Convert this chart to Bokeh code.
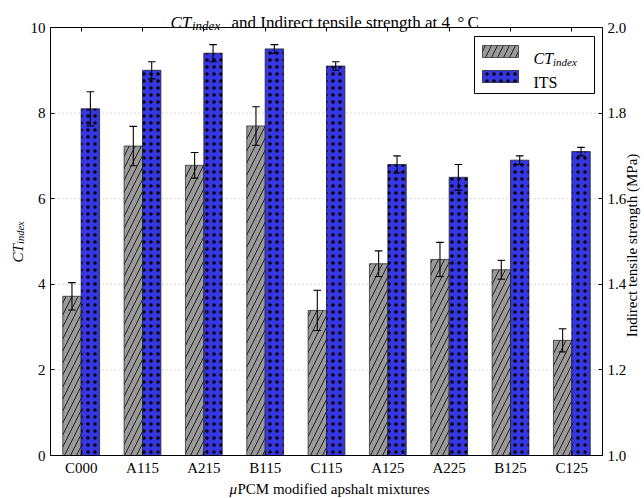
import numpy as np
from bokeh.plotting import figure
from bokeh.models import (Range1d, LinearAxis, FixedTicker, Label, BoxAnnotation,
                          ColumnDataSource, NumeralTickFormatter, CustomJSTickFormatter)
from bokeh.embed import file_html
from bokeh.resources import INLINE

# --- data -------------------------------------------------------------
mixtures = ["C000", "A115", "A215", "B115", "C115", "A125", "A225", "B125", "C125"]
ct_index = [3.72, 7.23, 6.78, 7.70, 3.39, 4.48, 4.58, 4.34, 2.69]
ct_err = [0.32, 0.46, 0.30, 0.45, 0.47, 0.30, 0.40, 0.22, 0.27]
its_mpa = [1.81, 1.90, 1.94, 1.95, 1.91, 1.68, 1.65, 1.69, 1.71]
its_err = [0.04, 0.02, 0.02, 0.01, 0.01, 0.02, 0.03, 0.01, 0.01]
ct_ticks = [0, 2, 4, 6, 8, 10]
its_ticks = [1.0, 1.2, 1.4, 1.6, 1.8, 2.0]

# --- geometry of the axes box inside the canvas -------------------------
W, H = 644, 498
BOX_L, BOX_R, BOX_T, BOX_B = 50, 602, 27, 455
X0, X1 = -0.5, len(mixtures) - 0.5
Y0, Y1 = ct_ticks[0], ct_ticks[-1]
I0, I1 = its_ticks[0], its_ticks[-1]
BAR_W = 0.3
CAP = 0.062
SERIF = "Liberation Serif"


def dx(px):
    return X0 + (px - BOX_L) / (BOX_R - BOX_L) * (X1 - X0)


def dy(py):
    return Y0 + (BOX_B - py) / (BOX_B - BOX_T) * (Y1 - Y0)


def ct_to_its(v):
    return I0 + (v - Y0) / (Y1 - Y0) * (I1 - I0)


# the frame fills the whole canvas; axes sit at fixed locations on the box
p = figure(width=W, height=H, output_backend="svg", toolbar_location=None,
           x_range=Range1d(dx(0), dx(W)), y_range=Range1d(dy(H), dy(0)),
           x_axis_location=None, y_axis_location=None, min_border=0)
p.extra_y_ranges = {"its": Range1d(ct_to_its(dy(H)), ct_to_its(dy(0)))}
p.background_fill_color = "white"
p.border_fill_color = "white"
p.outline_line_color = None
p.xgrid.visible = False
p.ygrid.visible = False

idx = np.arange(len(mixtures))
ct = np.array(ct_index)
ce = np.array(ct_err)
it = np.array(its_mpa)
ie = np.array(its_err)

ct_src = ColumnDataSource(dict(x=idx - BAR_W / 2, top=ct, lo=ct - ce, hi=ct + ce))
its_src = ColumnDataSource(dict(x=idx + BAR_W / 2, top=it, lo=it - ie, hi=it + ie))


# --- axes -------------------------------------------------------------
def style_axis(ax):
    ax.axis_line_color = None
    ax.major_tick_in = 4
    ax.major_tick_out = 0
    ax.major_tick_line_color = "black"
    ax.minor_tick_line_color = None
    ax.major_label_text_font = SERIF
    ax.major_label_text_font_size = "15px"
    ax.major_label_text_color = "black"
    ax.major_label_standoff = 5
    return ax


bottom_ax = style_axis(LinearAxis(
    ticker=FixedTicker(ticks=list(idx)), fixed_location=Y0, bounds=(X0, X1),
    major_label_overrides={int(i): m for i, m in zip(idx, mixtures)}))
bottom_ax.major_label_standoff = 4
p.add_layout(bottom_ax, "below")

top_ax = style_axis(LinearAxis(
    ticker=FixedTicker(ticks=list(idx)), fixed_location=Y1, bounds=(X0, X1),
    formatter=CustomJSTickFormatter(code="return ''")))
p.add_layout(top_ax, "above")

left_ax = style_axis(LinearAxis(
    ticker=FixedTicker(ticks=ct_ticks), fixed_location=X0, bounds=(Y0, Y1),
    formatter=NumeralTickFormatter(format="0")))
p.add_layout(left_ax, "left")

right_ax = style_axis(LinearAxis(
    y_range_name="its", ticker=FixedTicker(ticks=its_ticks), fixed_location=X1,
    bounds=(I0, I1), formatter=NumeralTickFormatter(format="0.0")))
p.add_layout(right_ax, "right")

# dotted horizontal grid at the inner CT ticks
grid_y = ct_ticks[1:-1]
p.segment(x0=[X0] * len(grid_y), y0=grid_y, x1=[X1] * len(grid_y), y1=grid_y,
          line_color="#b0b0b0", line_dash="1 3", line_width=1)

# --- bars -------------------------------------------------------------
CT_FILL = "#9a9a9a"
ITS_FILL = "#3636e3"
CT_HATCH = dict(hatch_pattern="/", hatch_color="#111111", hatch_scale=12, hatch_weight=0.9)
ITS_HATCH = dict(hatch_pattern=".", hatch_color="black", hatch_scale=7, hatch_weight=1.0)

p.vbar(x="x", top="top", bottom=Y0, width=BAR_W, source=ct_src,
       fill_color=CT_FILL, line_color="#333333", line_width=0.8, **CT_HATCH)
p.vbar(x="x", top="top", bottom=I0, width=BAR_W, source=its_src,
       y_range_name="its", fill_color=ITS_FILL, line_color="#222233",
       line_width=0.8, **ITS_HATCH)

# --- error bars -------------------------------------------------------
for src, rng in ((ct_src, "default"), (its_src, "its")):
    p.segment(x0="x", y0="lo", x1="x", y1="hi", source=src, y_range_name=rng,
              line_color="black", line_width=1.1)
    cap_x0 = np.array(src.data["x"]) - CAP
    cap_x1 = np.array(src.data["x"]) + CAP
    for key in ("lo", "hi"):
        p.segment(x0=cap_x0, y0=src.data[key], x1=cap_x1, y1=src.data[key],
                  y_range_name=rng, line_color="black", line_width=1.1)

# --- axes box -----------------------------------------------------------
p.add_layout(BoxAnnotation(left=X0, right=X1, bottom=Y0, top=Y1,
                           fill_alpha=0.0, line_color="black", line_alpha=1.0,
                           line_width=1))

# --- legend -----------------------------------------------------------
p.add_layout(BoxAnnotation(left=dx(474), right=dx(594), top=dy(36), bottom=dy(93),
                           fill_color="white", fill_alpha=1.0,
                           line_color="black", line_alpha=1.0, line_width=1))
p.add_layout(BoxAnnotation(left=dx(482), right=dx(518), top=dy(45), bottom=dy(57),
                           fill_color=CT_FILL, fill_alpha=1.0, line_color="#333333",
                           line_alpha=1.0, line_width=0.8, **CT_HATCH))
p.add_layout(BoxAnnotation(left=dx(482), right=dx(518), top=dy(70), bottom=dy(82),
                           fill_color=ITS_FILL, fill_alpha=1.0, line_color="#222233",
                           line_alpha=1.0, line_width=0.8, **ITS_HATCH))


def put(text, px, py, size, style="normal", angle=0.0, align="left"):
    p.add_layout(Label(x=dx(px), y=dy(py), text=text, angle=angle,
                       text_font=SERIF, text_font_size=f"{size}px",
                       text_font_style=style, text_color="black",
                       text_align=align, text_baseline="alphabetic"))


put("CT", 533, 57.5, 16, "italic")
put("index", 552.5, 61, 11, "italic")
put("ITS", 533, 82, 16)

# --- title --------------------------------------------------------------
put("CT", 170, 21.5, 17, "italic")
put("index", 191.5, 25, 13, "italic")
put("and Indirect tensile strength at 4", 231, 21.5, 17)
put("\u00b0", 457, 21.5, 17)
put("C", 467, 21.5, 17)

# --- axis titles --------------------------------------------------------
put("\u03bc", 229, 488, 15, "italic")
put("PCM modified apshalt mixtures", 237, 488, 15)

put("CT", 17, 262, 15, "italic", angle=np.pi / 2)
put("index", 20, 243.5, 10.5, "italic", angle=np.pi / 2)

put("Indirect tensile strength (MPa)", 631, 245, 15, angle=np.pi / 2, align="center")

open("out.html", "w").write(file_html(p, INLINE))
